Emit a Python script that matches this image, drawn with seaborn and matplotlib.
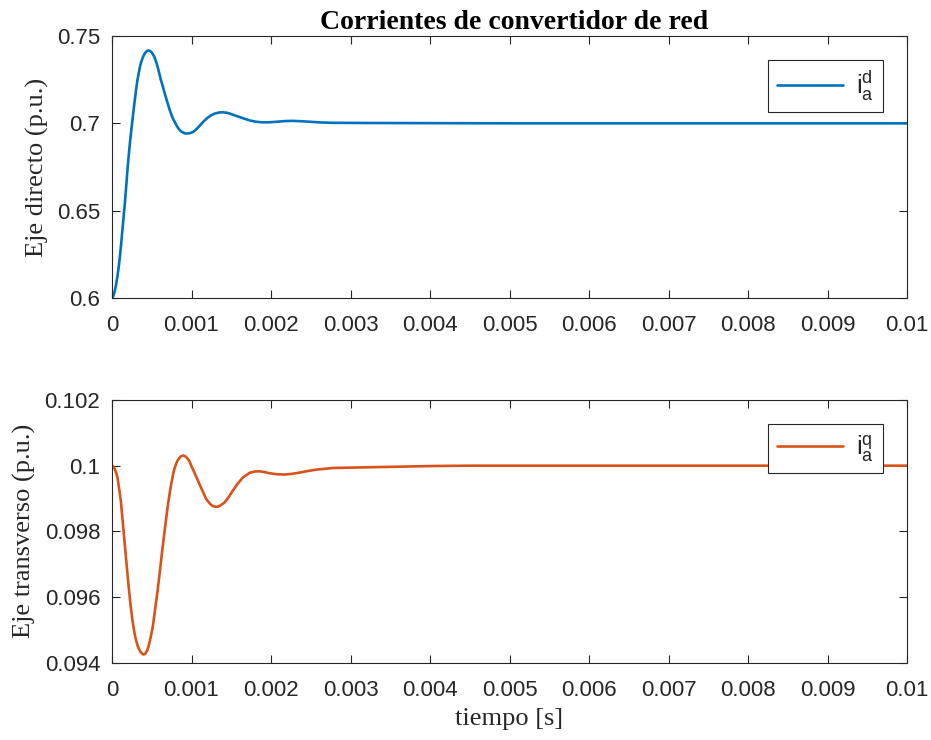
import matplotlib
matplotlib.use("Agg")
import matplotlib.pyplot as plt
import seaborn as sns
import pandas as pd

# ---------------- data ----------------
t_d = [0, 0.000017, 0.000035, 0.000052, 0.000069, 0.000085, 0.0001, 0.000116,
       0.000132, 0.000148, 0.000165, 0.00018, 0.000195, 0.00021, 0.000226,
       0.000242, 0.000258, 0.000274, 0.00029, 0.000305, 0.000321, 0.000337,
       0.000352, 0.000368, 0.000384, 0.0004, 0.00042, 0.00044, 0.000459,
       0.000477, 0.000495, 0.000513, 0.000531, 0.00055, 0.00057, 0.00059,
       0.000614, 0.000635, 0.000655, 0.000677, 0.000699, 0.00072, 0.00074,
       0.00076, 0.000783, 0.000805, 0.000825, 0.000845, 0.000866, 0.00089,
       0.00091, 0.00093, 0.00095, 0.00097, 0.000993, 0.001015, 0.001035,
       0.00107, 0.0011, 0.00115, 0.0012, 0.00125, 0.0013, 0.00135, 0.00139,
       0.00144, 0.00148, 0.00156, 0.00165, 0.00173, 0.0018, 0.00188, 0.00197,
       0.00207, 0.00218, 0.00228, 0.00238, 0.00249, 0.00263, 0.00278, 0.0032,
       0.004, 0.005, 0.01]
i_d = [0.6, 0.6012, 0.604, 0.6078, 0.6127, 0.618, 0.624, 0.6315,
       0.6394, 0.6475, 0.656, 0.6648, 0.6736, 0.6815, 0.689,
       0.6958, 0.7022, 0.7085, 0.7145, 0.72, 0.725, 0.729,
       0.7325, 0.7352, 0.7373, 0.739, 0.7405, 0.7414, 0.7417,
       0.7415, 0.7408, 0.7397, 0.7383, 0.7359, 0.733, 0.7295,
       0.725, 0.7218, 0.7185, 0.715, 0.7117, 0.7085, 0.7058,
       0.7034, 0.7013, 0.6994, 0.6978, 0.6965, 0.6955, 0.6948,
       0.6944, 0.6942, 0.6942, 0.6943, 0.6946, 0.695, 0.6956,
       0.697, 0.6985, 0.701, 0.7031, 0.7047, 0.7057, 0.7062, 0.7063,
       0.7061, 0.7056, 0.7043, 0.7029, 0.7017, 0.7010, 0.7006, 0.7006,
       0.7009, 0.7013, 0.7014, 0.7012, 0.7009, 0.7005, 0.7003, 0.7002,
       0.7001, 0.7, 0.7]

t_q = [0, 0.000015, 0.00003, 0.00005, 0.000069, 0.00009, 0.000111, 0.000132,
       0.000153, 0.000174, 0.000195, 0.000216, 0.000237, 0.000258, 0.000279,
       0.000295, 0.00031, 0.000326, 0.000342, 0.000356, 0.00037, 0.000383,
       0.000396, 0.000408, 0.00042, 0.000433, 0.000447, 0.000462, 0.000478,
       0.000494, 0.00051, 0.000525, 0.00054, 0.000556, 0.000573, 0.000589,
       0.000605, 0.00062, 0.000636, 0.000652, 0.000668, 0.000684, 0.000699,
       0.000715, 0.00073, 0.000745, 0.000761, 0.000775, 0.00079, 0.000807,
       0.000824, 0.000842, 0.00086, 0.00088, 0.0009, 0.000918, 0.000935,
       0.000952, 0.00097, 0.000985, 0.001, 0.001018, 0.001035, 0.001052,
       0.00107, 0.0011, 0.00115, 0.001186, 0.00124, 0.00127, 0.0013, 0.00133,
       0.00136, 0.001416, 0.00147, 0.00152, 0.00158, 0.001646, 0.00173,
       0.00179, 0.001848, 0.00191, 0.00198, 0.00207, 0.00217, 0.00226,
       0.00236, 0.00247, 0.00257, 0.00278, 0.0032, 0.00362, 0.00404,
       0.0045, 0.01]
i_q = [0.1, 0.09998, 0.09992, 0.0998, 0.09964, 0.0993, 0.09893, 0.09838,
       0.09781, 0.09725, 0.09669, 0.09616, 0.09568, 0.09528, 0.09496,
       0.09476, 0.09462, 0.09449, 0.0944, 0.09434, 0.0943, 0.09427,
       0.09425, 0.09426, 0.09428, 0.09433, 0.0944, 0.09452, 0.09468,
       0.09486, 0.09506, 0.09531, 0.09558, 0.09587, 0.09618, 0.09651,
       0.09684, 0.09717, 0.0975, 0.09782, 0.09813, 0.09844, 0.09873,
       0.09899, 0.09923, 0.09945, 0.09964, 0.09981, 0.09994, 0.10006,
       0.10015, 0.10022, 0.10027, 0.1003, 0.10031, 0.10029, 0.10026,
       0.10021, 0.10015, 0.10007, 0.09998, 0.09989, 0.0998, 0.0997,
       0.09961, 0.09944, 0.09917, 0.09898, 0.09882, 0.09877, 0.09875, 0.09875,
       0.09878, 0.09888, 0.09905, 0.09924, 0.09945, 0.09964, 0.09978,
       0.09982, 0.09983, 0.09981, 0.09977, 0.09974, 0.09973, 0.09975,
       0.09979, 0.09984, 0.09988, 0.09993, 0.09995, 0.09997, 0.09999,
       0.1, 0.1]

x_ticks = [0, 0.001, 0.002, 0.003, 0.004, 0.005, 0.006, 0.007, 0.008, 0.009, 0.01]
x_ticklabels = ["0", "0.001", "0.002", "0.003", "0.004", "0.005", "0.006",
                "0.007", "0.008", "0.009", "0.01"]
yd_ticks = [0.6, 0.65, 0.7, 0.75]
yd_ticklabels = ["0.6", "0.65", "0.7", "0.75"]
yq_ticks = [0.094, 0.096, 0.098, 0.1, 0.102]
yq_ticklabels = ["0.094", "0.096", "0.098", "0.1", "0.102"]

title = "Corrientes de convertidor de red"
ylabel_d = "Eje directo (p.u.)"
ylabel_q = "Eje transverso (p.u.)"
xlabel = "tiempo [s]"
label_d = r"$\mathrm{i_a^d}$"
label_q = r"$\mathrm{i_a^q}$"

# ---------------- style ----------------
sns.set_style("white")
plt.rcParams["font.family"] = ["Liberation Sans", "DejaVu Sans"]
plt.rcParams["mathtext.fontset"] = "custom"
plt.rcParams["mathtext.rm"] = "Liberation Sans"
plt.rcParams["mathtext.it"] = "Liberation Sans:italic"

AX = "#262626"
BLUE = "#0072BD"
ORANGE = "#D95319"
W, H = 931, 740

fig = plt.figure(figsize=(W / 100, H / 100), dpi=100)
ax1 = fig.add_axes([112 / W, 1 - 298 / H, 795 / W, 262 / H])
ax2 = fig.add_axes([112 / W, 1 - 662.7 / H, 795 / W, 262.7 / H])

df_d = pd.DataFrame({"t": t_d, "v": i_d, "s": label_d})
df_q = pd.DataFrame({"t": t_q, "v": i_q, "s": label_q})

sns.lineplot(data=df_d, x="t", y="v", hue="s", palette=[BLUE], ax=ax1,
             sort=False, estimator=None, linewidth=1.9)
sns.lineplot(data=df_q, x="t", y="v", hue="s", palette=[ORANGE], ax=ax2,
             sort=False, estimator=None, linewidth=1.9)


def style(ax, yt, ytl, ylim, ylab):
    ax.set_xlim(0, 0.01)
    ax.set_ylim(*ylim)
    ax.set_xticks(x_ticks)
    ax.set_xticklabels(x_ticklabels)
    ax.set_yticks(yt)
    ax.set_yticklabels(ytl)
    for sp in ax.spines.values():
        sp.set_visible(True)
        sp.set_color(AX)
        sp.set_linewidth(0.8)
    ax.tick_params(direction="in", length=5.5, width=0.8, color=AX,
                   labelcolor=AX, labelsize=16, top=True, right=True,
                   bottom=True, left=True)
    ax.tick_params(axis="x", pad=12.5)
    ax.tick_params(axis="y", pad=8.5)
    ax.set_ylabel(ylab, family=["Liberation Serif"], fontsize=19,
                  color=AX, labelpad=6)
    ax.set_xlabel("")
    leg = ax.legend(loc="upper right", bbox_to_anchor=((883 - 112) / 795, 1 - 24 / 262),
                    borderaxespad=0, fancybox=False, framealpha=1,
                    edgecolor=AX, fontsize=18.5, handlelength=2.57,
                    handletextpad=0.52, borderpad=0.35, title=None)
    leg.get_frame().set_linewidth(0.8)


style(ax1, yd_ticks, yd_ticklabels, (0.6, 0.75), ylabel_d)
style(ax2, yq_ticks, yq_ticklabels, (0.094, 0.102), ylabel_q)
ax2.set_xlabel(xlabel, family=["Liberation Serif"], fontsize=19, color=AX, labelpad=5)
ax1.set_title(title, family=["Liberation Serif"], fontsize=20,
              fontweight="bold", color="black", pad=5, x=0.506)

fig.savefig("out.png", dpi=100)
